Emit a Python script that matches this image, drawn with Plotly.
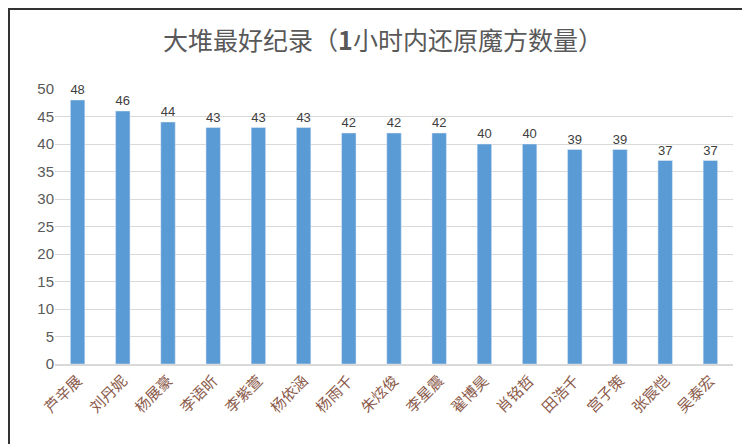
import plotly.graph_objects as go

names = ["芦辛展","刘丹妮","杨展豪","李语昕","李紫萱","杨依涵","杨雨千","朱炫俊","李星震","翟博昊","肖铭哲","田浩千","宫子策","张宸恺","吴泰宏"]
values = [48,46,44,43,43,43,42,42,42,40,40,39,39,37,37]

fig = go.Figure(go.Bar(x=names, y=values, marker_color="#5b9bd5", width=0.32,
    text=values, textposition="outside", cliponaxis=False,
    textfont=dict(size=15, color="#404040", family="Liberation Sans")))
fig.update_layout(
    width=750, height=444, plot_bgcolor="white", paper_bgcolor="white",
    margin=dict(l=47, r=25, t=81, b=88, autoexpand=False),
    title=dict(text="大堆最好纪录（<b>1</b>小时内还原魔方数量）", x=0.5, xanchor="center", y=0.925, yanchor="middle",
               font=dict(size=25, color="#595959", family="Noto Sans CJK SC")),
    showlegend=False,
    shapes=[dict(type="rect", xref="paper", yref="paper", x0=-46/678, x1=1+24/678, y0=-87/275, y1=1+80/275,
                 line=dict(color="#333333", width=2))],
)
fig.update_xaxes(tickangle=-45, automargin=False, tickfont=dict(size=15, color="#8b5a4a", family="Noto Sans CJK SC"),
                 showline=True, linecolor="#d9d9d9", linewidth=2, ticks="")
fig.update_yaxes(range=[0,50], dtick=5, gridcolor="#d9d9d9", zeroline=False, automargin=False,
                 tickfont=dict(size=15, color="#595959", family="Liberation Sans"))
fig.write_html("out.html")
